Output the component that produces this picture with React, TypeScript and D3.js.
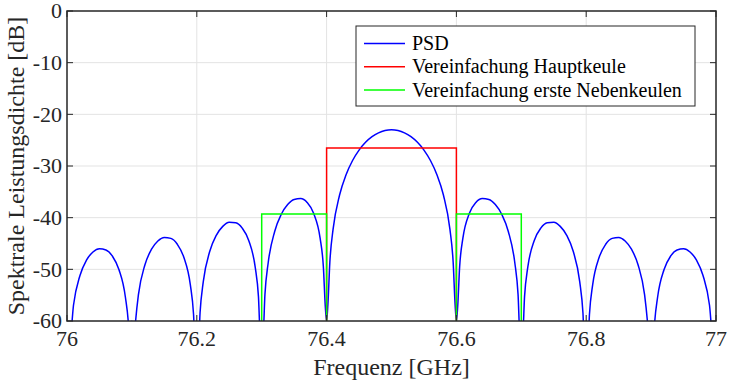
import { useEffect, useRef } from 'react'
import * as d3 from 'd3'

// PSD samples [GHz, dB], values at the nulls clipped to the axis floor
const psdPoints: [number, number][] = [
  [76.0, -60], [76.002, -62.95], [76.005, -62.95], [76.01, -56.95], [76.02, -51.19], [76.03, -48.23], [76.04, -46.64],
  [76.05, -46.01], [76.06, -46.25], [76.07, -47.45], [76.08, -50.03], [76.09, -55.40], [76.095, -61.20], [76.098, -69.07],
  [76.1, -60], [76.102, -66.0], [76.105, -60.99], [76.11, -54.96], [76.12, -49.16], [76.13, -46.15], [76.14, -44.51],
  [76.15, -43.82], [76.16, -44.01], [76.17, -45.15], [76.18, -47.67], [76.19, -52.97], [76.195, -58.74], [76.198, -66.58],
  [76.2, -60], [76.202, -66.47], [76.205, -58.45], [76.21, -52.39], [76.22, -46.51], [76.23, -43.41], [76.24, -41.68],
  [76.25, -40.90], [76.26, -40.99], [76.27, -42.02], [76.28, -44.41], [76.29, -49.59], [76.295, -55.29], [76.298, -63.09],
  [76.3, -60], [76.302, -62.92], [76.305, -54.85], [76.31, -48.72], [76.32, -42.67], [76.33, -39.39], [76.34, -37.47],
  [76.35, -36.47], [76.36, -36.31], [76.37, -37.06], [76.38, -39.15], [76.39, -43.97], [76.395, -49.48], [76.398, -57.16],
  [76.4, -60], [76.402, -56.81], [76.405, -48.61], [76.41, -42.23], [76.42, -35.62], [76.43, -31.69], [76.44, -28.94],
  [76.45, -26.92], [76.46, -25.42], [76.47, -24.33], [76.48, -23.58], [76.49, -23.14], [76.5, -23.0],
  [76.51, -23.14], [76.52, -23.58], [76.53, -24.33], [76.54, -25.42], [76.55, -26.92], [76.56, -28.94], [76.57, -31.69],
  [76.58, -35.62], [76.59, -42.23], [76.595, -48.61], [76.598, -56.81], [76.6, -60],
  [76.602, -57.16], [76.605, -49.48], [76.61, -43.97], [76.62, -39.15], [76.63, -37.06], [76.64, -36.31], [76.65, -36.47],
  [76.66, -37.47], [76.67, -39.39], [76.68, -42.67], [76.69, -48.72], [76.695, -54.85], [76.698, -62.92], [76.7, -60],
  [76.702, -63.09], [76.705, -55.29], [76.71, -49.59], [76.72, -44.41], [76.73, -42.02], [76.74, -40.99], [76.75, -40.90],
  [76.76, -41.68], [76.77, -43.41], [76.78, -46.51], [76.79, -52.39], [76.795, -58.45], [76.798, -66.47], [76.8, -60],
  [76.802, -66.58], [76.805, -58.74], [76.81, -52.97], [76.82, -47.67], [76.83, -45.15], [76.84, -44.01], [76.85, -43.82],
  [76.86, -44.51], [76.87, -46.15], [76.88, -49.16], [76.89, -54.96], [76.895, -60.99], [76.898, -66.0], [76.9, -60],
  [76.902, -69.07], [76.905, -61.20], [76.91, -55.40], [76.92, -50.03], [76.93, -47.45], [76.94, -46.25], [76.95, -46.01],
  [76.96, -46.64], [76.97, -48.23], [76.98, -51.19], [76.99, -56.95], [76.995, -62.95], [76.998, -62.95], [77.0, -60],
]

const mainLobe: [number, number][] = [[76.4, -60], [76.4, -26.5], [76.6, -26.5], [76.6, -60]]
const sideLobeLeft: [number, number][] = [[76.3, -60], [76.3, -39.3], [76.4, -39.3], [76.4, -60]]
const sideLobeRight: [number, number][] = [[76.6, -60], [76.6, -39.3], [76.7, -39.3], [76.7, -60]]

const xTicks = [76, 76.2, 76.4, 76.6, 76.8, 77]
const yTicks = [0, -10, -20, -30, -40, -50, -60]
const legendItems = [
  { label: 'PSD', color: '#0000ff' },
  { label: 'Vereinfachung Hauptkeule', color: '#ff0000' },
  { label: 'Vereinfachung erste Nebenkeulen', color: '#00ff00' },
]

export default function PsdChart() {
  const ref = useRef<SVGSVGElement>(null)

  useEffect(() => {
    if (!ref.current) return
    const svg = d3.select(ref.current)
    svg.selectAll('*').remove()

    const left = 67, right = 716, top = 11, bottom = 321
    const x = d3.scaleLinear().domain([76, 77]).range([left, right])
    const y = d3.scaleLinear().domain([-60, 0]).range([bottom, top])
    const font = 'Liberation Serif, Times New Roman, serif'

    svg.append('rect').attr('width', 729).attr('height', 382).attr('fill', '#fff')

    svg.append('clipPath').attr('id', 'plotClip')
      .append('rect').attr('x', left).attr('y', top).attr('width', right - left).attr('height', bottom - top)

    // grid
    const grid = svg.append('g').attr('stroke', '#e3e3e3').attr('stroke-width', 1)
    xTicks.slice(1, -1).forEach(t => {
      grid.append('line').attr('x1', x(t)).attr('x2', x(t)).attr('y1', top).attr('y2', bottom)
    })
    yTicks.slice(1, -1).forEach(t => {
      grid.append('line').attr('x1', left).attr('x2', right).attr('y1', y(t)).attr('y2', y(t))
    })

    const plot = svg.append('g').attr('clip-path', 'url(#plotClip)')
    const curve = d3.line<[number, number]>().x(d => x(d[0])).y(d => y(d[1])).curve(d3.curveMonotoneX)
    plot.append('path').datum(psdPoints).attr('d', curve).attr('fill', 'none')
      .attr('stroke', '#0000ff').attr('stroke-width', 1.5)

    const step = d3.line<[number, number]>().x(d => x(d[0])).y(d => y(d[1]))
    plot.append('path').datum(mainLobe).attr('d', step).attr('fill', 'none')
      .attr('stroke', '#ff0000').attr('stroke-width', 1.5)
    ;[sideLobeLeft, sideLobeRight].forEach(s => {
      plot.append('path').datum(s).attr('d', step).attr('fill', 'none')
        .attr('stroke', '#00ff00').attr('stroke-width', 1.5)
    })

    // axes box
    svg.append('rect').attr('x', left).attr('y', top).attr('width', right - left).attr('height', bottom - top)
      .attr('fill', 'none').attr('stroke', '#262626').attr('stroke-width', 1.5)

    const ticks = svg.append('g').attr('stroke', '#262626').attr('stroke-width', 1)
    xTicks.forEach(t => {
      ticks.append('line').attr('x1', x(t)).attr('x2', x(t)).attr('y1', bottom).attr('y2', bottom - 6)
      ticks.append('line').attr('x1', x(t)).attr('x2', x(t)).attr('y1', top).attr('y2', top + 6)
    })
    yTicks.forEach(t => {
      ticks.append('line').attr('x1', left).attr('x2', left + 6).attr('y1', y(t)).attr('y2', y(t))
      ticks.append('line').attr('x1', right).attr('x2', right - 6).attr('y1', y(t)).attr('y2', y(t))
    })

    const txt = svg.append('g').attr('font-family', font).attr('fill', '#262626')
    xTicks.forEach(t => {
      txt.append('text').attr('x', x(t)).attr('y', 346).attr('text-anchor', 'middle')
        .attr('font-size', 22).text(String(t))
    })
    yTicks.forEach(t => {
      txt.append('text').attr('x', left - 5).attr('y', y(t)).attr('dy', '0.33em').attr('text-anchor', 'end')
        .attr('font-size', 22).text(String(t))
    })
    txt.append('text').attr('x', (left + right) / 2).attr('y', 375).attr('text-anchor', 'middle')
      .attr('font-size', 24).text('Frequenz [GHz]')
    txt.append('text').attr('transform', `translate(24,${(top + bottom) / 2}) rotate(-90)`)
      .attr('text-anchor', 'middle').attr('font-size', 24).text('Spektrale Leistungsdichte [dB]')

    // legend
    const lg = svg.append('g')
    lg.append('rect').attr('x', 356).attr('y', 26).attr('width', 339).attr('height', 80)
      .attr('fill', '#fff').attr('stroke', '#262626').attr('stroke-width', 1)
    legendItems.forEach((item, i) => {
      const ly = 43.5 + i * 23.3
      lg.append('line').attr('x1', 364).attr('x2', 405).attr('y1', ly).attr('y2', ly)
        .attr('stroke', item.color).attr('stroke-width', 1.5)
      lg.append('text').attr('x', 412).attr('y', ly).attr('dy', '0.33em')
        .attr('font-family', font).attr('font-size', 20).attr('fill', '#000').text(item.label)
    })
  }, [])

  return <svg ref={ref} width={729} height={382} style={{ position: 'absolute', left: 0, top: 0 }} />
}
